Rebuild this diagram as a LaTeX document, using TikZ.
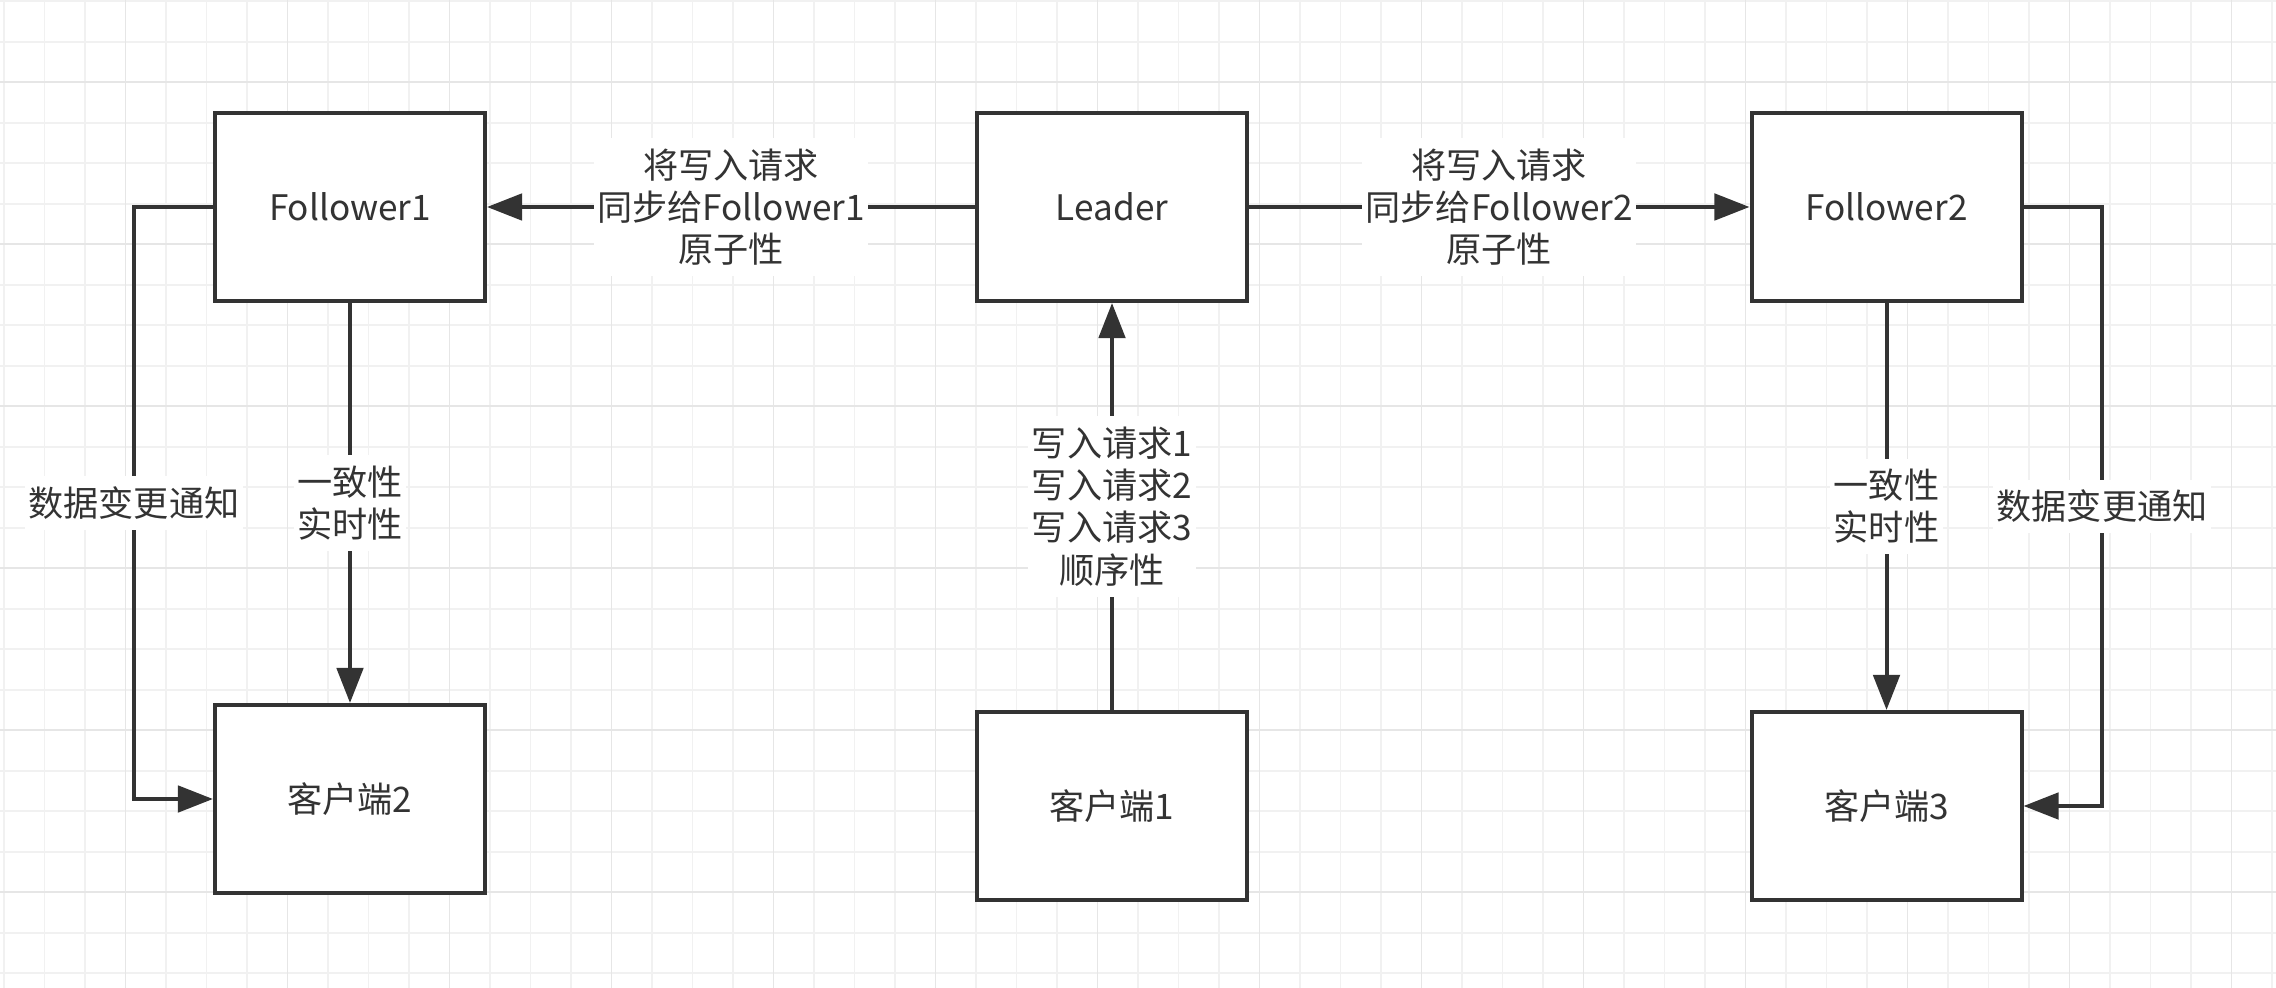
\documentclass[tikz,border=0pt]{standalone}
\usepackage{fontspec}
\setmainfont{Noto Sans CJK SC}
\usetikzlibrary{arrows.meta}
\definecolor{ink}{HTML}{333333}
\definecolor{gridminor}{HTML}{F1F1F1}
\definecolor{gridmajor}{HTML}{E6E6E6}

\begin{document}
\begin{tikzpicture}[font=\fontsize{10}{12}\selectfont,>={Triangle[length=10pt,width=7.5pt]},
  box/.style={draw=ink,line width=1.15pt,fill=white,text=ink,
    minimum width=27mm,minimum height=18.8mm,inner sep=0pt},
  flow/.style={->,line width=1.15pt,draw=ink},
  lbl/.style={fill=white,text=ink,align=center,inner xsep=1pt,inner ysep=3pt}]
\clip (0,0) rectangle (22.76,-9.88);
\fill[white] (0,0) rectangle (22.76,-9.88);
% background grid
\draw[gridminor,line width=.5pt,shift={(0.04,-0.013)},step=0.405] (-0.5,0.5) grid (23,-10.5);
\draw[gridmajor,line width=.5pt,shift={(1.255,-0.82)},step=1.62] (-2,2) grid (22,-11);
\node[box] (follower1) at (3.50,-2.07) {Follower1};
\node[box] (leader) at (11.12,-2.07) {Leader};
\node[box] (follower2) at (18.865,-2.07) {Follower2};
\node[box] (client2) at (3.50,-7.99) {客户端2};
\node[box] (client1) at (11.12,-8.06) {客户端1};
\node[box] (client3) at (18.865,-8.06) {客户端3};
\coordinate (bendL) at (1.34,-2.07);
\coordinate (bendR) at (21.02,-2.07);
\draw[flow] (leader)--node[lbl]{将写入请求\\同步给Follower1\\原子性}(follower1);
\draw[flow] (leader)--node[lbl]{将写入请求\\同步给Follower2\\原子性}(follower2);
\draw[flow] (client1)--node[lbl]{写入请求1\\写入请求2\\写入请求3\\顺序性}(leader);
\draw[flow] (follower1)--node[lbl]{一致性\\实时性}(client2);
\draw[flow] (follower2)--node[lbl]{一致性\\实时性}(client3);
\draw[flow] (follower1.west)--(bendL)|-node[pos=.25,lbl]{数据变更通知}(client2.west);
\draw[flow] (follower2.east)--(bendR)|-node[pos=.25,lbl]{数据变更通知}(client3.east);
\end{tikzpicture}
\end{document}
